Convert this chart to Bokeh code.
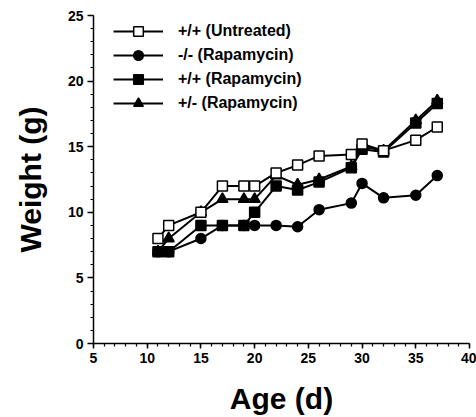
from bokeh.plotting import figure
from bokeh.models import Legend, LegendItem, SingleIntervalTicker, Range1d
from bokeh.embed import file_html
from bokeh.resources import INLINE

ages = [11, 12, 15, 17, 19, 20, 22, 24, 26, 29, 30, 32, 35, 37]
untreated_wt = [8.0, 9.0, 10.0, 12.0, 12.0, 12.0, 13.0, 13.6, 14.3, 14.4, 15.2, 14.7, 15.5, 16.5]
ko_rapa = [7.0, 7.0, 8.0, 9.0, 9.0, 9.0, 9.0, 8.9, 10.2, 10.7, 12.2, 11.1, 11.3, 12.8]
wt_rapa = [7.0, 7.0, 9.0, 9.0, 9.0, 10.0, 12.0, 11.7, 12.3, 13.4, 14.8, 14.6, 16.8, 18.3]
het_rapa = [7.0, 8.0, 10.0, 11.0, 11.0, 11.0, 12.8, 12.1, 12.5, 13.5, 15.0, 14.7, 17.0, 18.5]

labels = ["+/+ (Untreated)", "-/- (Rapamycin)", "+/+ (Rapamycin)", "+/- (Rapamycin)"]

FONT = "Liberation Sans"

p = figure(width=476, height=417, output_backend="svg", toolbar_location=None,
           x_range=Range1d(5, 40), y_range=Range1d(0, 25),
           min_border_left=93, min_border_top=15, min_border_right=7, min_border_bottom=73)
p.outline_line_color = None
p.xgrid.visible = False
p.ygrid.visible = False
p.background_fill_color = "white"

for ax in (p.xaxis[0], p.yaxis[0]):
    ax.ticker = SingleIntervalTicker(interval=5, num_minor_ticks=5)
    ax.axis_line_color = "black"
    ax.axis_line_width = 1.5
    ax.major_tick_line_color = "black"
    ax.minor_tick_line_color = "black"
    ax.major_tick_line_width = 1.5
    ax.minor_tick_line_width = 1.2
    ax.major_tick_in = 0
    ax.minor_tick_in = 0
    ax.major_label_text_font = FONT
    ax.major_label_text_font_style = "bold"
    ax.major_label_text_font_size = "14px"
    ax.major_label_text_color = "black"
    ax.axis_label_text_font = FONT
    ax.axis_label_text_font_style = "bold"
    ax.axis_label_text_font_size = "30px"
    ax.axis_label_text_color = "black"

p.xaxis.major_tick_out = 5
p.xaxis.minor_tick_out = 3
p.yaxis.major_tick_out = 6
p.yaxis.minor_tick_out = 3
p.xaxis.major_label_standoff = 4
p.yaxis.major_label_standoff = 4
p.xaxis.axis_label = "Age (d)"
p.yaxis.axis_label = "Weight (g)"
p.xaxis.axis_label_standoff = 16
p.yaxis.axis_label_standoff = 18

LW = 2
MS = 10

def series(ys, marker, fill, size=MS):
    ln = p.line(ages, ys, line_color="black", line_width=LW)
    mk = p.scatter(ages, ys, marker=marker, size=size, fill_color=fill,
                   line_color="black", line_width=1.5)
    return [ln, mk]

r_ko = series(ko_rapa, "circle", "black")
r_het = series(het_rapa, "triangle", "black", 11)
r_wt = series(wt_rapa, "square", "black")
r_un = series(untreated_wt, "square", "white")

legend = Legend(items=[
    LegendItem(label=labels[0], renderers=r_un),
    LegendItem(label=labels[1], renderers=r_ko),
    LegendItem(label=labels[2], renderers=r_wt),
    LegendItem(label=labels[3], renderers=r_het),
], location=(20, 228))
legend.margin = 0
legend.padding = 0
legend.spacing = 0
legend.glyph_width = 50
legend.glyph_height = 24
legend.label_standoff = 15
legend.label_text_font = FONT
legend.label_text_font_style = "bold"
legend.label_text_font_size = "16px"
legend.label_text_color = "black"
legend.background_fill_alpha = 0
legend.border_line_color = None
p.add_layout(legend, "center")

open("out.html", "w").write(file_html(p, INLINE))
